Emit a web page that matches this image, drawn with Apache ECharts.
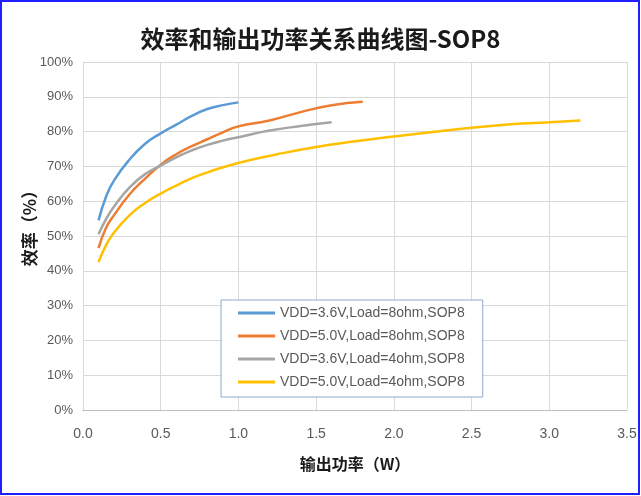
<!DOCTYPE html>
<html><head><meta charset="utf-8">
<script src="https://cdn.jsdelivr.net/npm/echarts@6/dist/echarts.min.js"></script>
<style>html,body{margin:0;padding:0;background:#fff}#c{width:641px;height:496px}</style>
</head><body><div id="c"></div>
<script>
const seriesNames = ['VDD=3.6V,Load=8ohm,SOP8','VDD=5.0V,Load=8ohm,SOP8','VDD=3.6V,Load=4ohm,SOP8','VDD=5.0V,Load=4ohm,SOP8'];
const x1 = [0.1,0.15,0.2,0.3,0.4,0.5,0.6,0.7,0.8,0.9,1.0];
const y1 = [54.5,61.5,66,72,76.5,79.5,82,84.5,86.5,87.6,88.4];
const x2 = [0.1,0.15,0.2,0.3,0.4,0.5,0.6,0.7,0.8,0.9,1.0,1.2,1.4,1.6,1.8];
const y2 = [46.5,52.5,56,62,66.5,70.5,73.5,75.8,77.8,79.8,81.5,83.2,85.6,87.6,88.6];
const x3 = [0.1,0.15,0.2,0.3,0.4,0.5,0.6,0.7,0.8,0.9,1.0,1.2,1.4,1.6];
const y3 = [50.5,55,58.5,64,67.8,70.2,72.6,74.6,76.2,77.4,78.4,80.3,81.6,82.7];
const x4 = [0.1,0.15,0.2,0.3,0.4,0.5,0.6,0.75,1.0,1.25,1.5,1.75,2.0,2.25,2.5,2.75,3.0,3.2];
const y4 = [42.5,47.5,51,56,59.5,62.2,64.5,67.5,71,73.5,75.6,77.2,78.6,79.9,81.1,82.1,82.7,83.2];
const xTicks = [0,0.5,1,1.5,2,2.5,3,3.5];
const colors = ['#5B9BD5','#ED7D31','#A5A5A5','#FFC000'];
const xs = [x1,x2,x3,x4], ys = [y1,y2,y3,y4];
const chart = echarts.init(document.getElementById('c'));
chart.setOption({
  animation:false,
  graphic:[{type:'rect',shape:{x:1,y:1,width:638,height:493},style:{fill:'none',stroke:'#1f1fff',lineWidth:2},z:100}],
  title:{text:'效率和输出功率关系曲线图-SOP8',left:'center',top:22,
    textStyle:{fontFamily:'Noto Sans CJK SC',fontWeight:'bold',fontSize:24,color:'#1a1a1a'}},
  grid:{left:83,right:14,top:62,bottom:86},
  legend:{orient:'vertical',left:221,top:300,padding:[6,18,8,17],itemGap:9,itemWidth:37,itemHeight:3,icon:'rect',
    borderColor:'#8EA9CF',borderWidth:1,backgroundColor:'#fff',
    textStyle:{color:'#595959',fontSize:14,fontFamily:'Liberation Sans'},data:seriesNames},
  xAxis:{type:'value',min:0,max:3.5,interval:0.5,
    name:'输出功率（W）',nameLocation:'middle',nameGap:46,
    nameTextStyle:{fontFamily:'Noto Sans CJK SC',fontWeight:'bold',fontSize:16,color:'#1a1a1a'},
    axisLine:{show:true,lineStyle:{color:'#bfbfbf'}},axisTick:{show:false},
    axisLabel:{color:'#595959',fontSize:14,margin:17,formatter:v=>v.toFixed(1)},
    splitLine:{show:true,lineStyle:{color:'#d9d9d9'}}},
  yAxis:{type:'value',min:0,max:100,interval:10,
    name:'效率（%）',nameLocation:'middle',nameGap:45,nameMoveOverlap:false,
    nameTextStyle:{fontFamily:'Noto Sans CJK SC',fontWeight:'bold',fontSize:17,color:'#1a1a1a',padding:[0,0,0,24]},
    axisLine:{show:true,lineStyle:{color:'#d9d9d9'}},axisTick:{show:false},
    axisLabel:{color:'#595959',fontSize:13,margin:10,formatter:'{value}%'},
    splitLine:{show:true,lineStyle:{color:'#d9d9d9'}}},
  series:seriesNames.map((n,i)=>({name:n,type:'line',smooth:true,symbol:'none',
    lineStyle:{width:2.5,color:colors[i]},itemStyle:{color:colors[i]},
    data:xs[i].map((x,j)=>[x,ys[i][j]])}))
});
</script></body></html>
